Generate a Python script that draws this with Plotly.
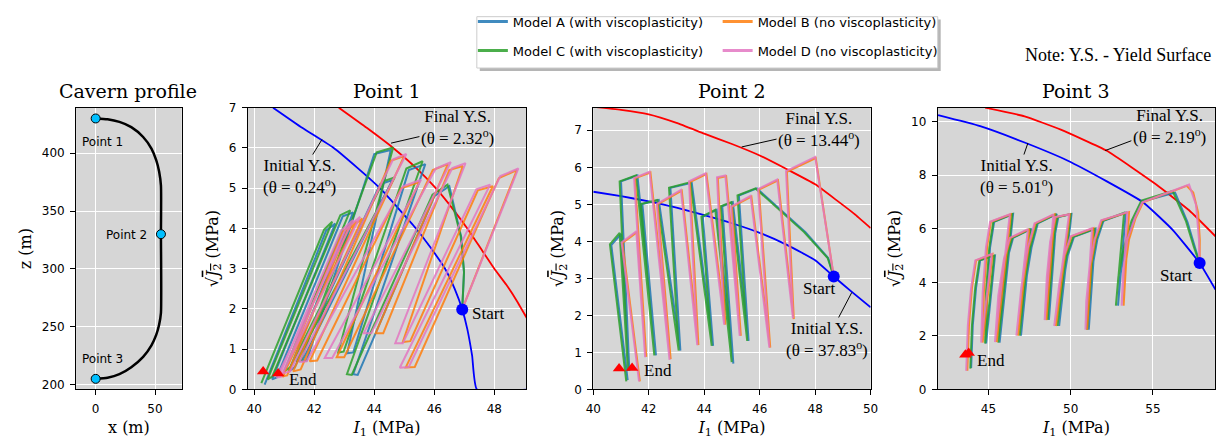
import plotly.graph_objects as go

W, H = 1230, 442

# ---------------- DATA ----------------
# Cavern profile (x, z) in m
cav_x = [0, 10, 20, 30, 40, 47, 51, 53.5, 55, 55, 55, 53.5, 51, 47, 40, 30, 20, 10, 0]
cav_z = [430, 429.3, 427, 422.5, 414, 404, 394, 384, 372, 330, 262, 252, 243, 234, 224, 215, 209, 206, 205]
pt_x = [0, 55, 0]
pt_z = [430, 330, 205]
pt_names = ["Point 1", "Point 2", "Point 3"]

# Yield surfaces
p1_init_I1 = [40.63, 41.6, 42.65, 43.45, 44.19, 44.8, 45.39, 45.9, 46.36, 46.68, 46.93, 47.1, 47.26, 47.42, 49.2]
p1_init_J2 = [7.0, 6.5, 6.0, 5.5, 5.0, 4.5, 4.0, 3.5, 3.0, 2.5, 1.99, 1.5, 0.84, 0.0, 0.0]
p1_fin_I1 = [42.82, 43.75, 44.63, 45.4, 46.05, 46.6, 47.1, 47.55, 48.0, 48.4, 48.75, 49.1]
p1_fin_J2 = [7.0, 6.5, 6.0, 5.5, 5.0, 4.5, 4.0, 3.5, 3.0, 2.6, 2.2, 1.75]

p2_init_I1 = [40.0, 41.0, 42.0, 43.0, 44.0, 45.0, 46.0, 47.0, 48.0, 48.67, 49.3, 50.0]
p2_init_J2 = [5.34, 5.22, 5.08, 4.91, 4.71, 4.49, 4.23, 3.90, 3.49, 3.05, 2.65, 2.22]
p2_fin_I1 = [40.0, 41.0, 42.0, 43.0, 44.0, 45.0, 46.0, 47.0, 48.0, 48.79, 49.4, 50.0]
p2_fin_J2 = [7.63, 7.55, 7.43, 7.20, 6.91, 6.63, 6.32, 5.94, 5.54, 5.10, 4.75, 4.36]

p3_init_I1 = [41.94, 44.5, 47.2, 49.8, 52.2, 54.4, 56.2, 57.84, 58.8]
p3_init_J2 = [10.24, 9.83, 9.22, 8.55, 7.77, 6.99, 5.96, 4.72, 3.73]
p3_fin_I1 = [44.8, 47.2, 49.4, 52.2, 55.2, 57.2, 58.8]
p3_fin_J2 = [10.52, 10.2, 9.70, 8.91, 7.65, 6.69, 5.72]

# Start / End points
start_I1 = [46.93, 48.67, 57.84]
start_J2 = [1.99, 3.05, 4.72]
p1_end_I1 = [40.3, 40.8]
p1_end_J2 = [0.45, 0.40]
p2_end_I1 = [40.93, 41.4]
p2_end_J2 = [0.57, 0.58]
p3_end_I1 = [43.6, 43.8]
p3_end_J2 = [1.30, 1.36]

# ---- Point 1 stress paths ----
p1_A_I1 = [46.93, 46.99, 46.90, 46.50, 46.00, 43.45, 43.30, 45.70, 45.15, 43.30, 43.10, 44.55, 44.00,
           41.75, 41.60, 44.60, 44.20, 41.35, 41.15, 43.30, 42.95, 40.75, 40.60, 42.70, 42.40, 40.35]
p1_A_J2 = [1.99, 2.90, 3.78, 5.05, 4.80, 0.36, 0.38, 5.60, 5.45, 0.92, 0.90, 5.95, 5.85,
           0.72, 0.70, 5.20, 5.10, 0.55, 0.45, 4.40, 4.30, 0.30, 0.25, 4.12, 3.95, 0.12]
p1_C_I1 = [46.93, 46.99, 46.88, 46.44, 45.94, 43.25, 43.09, 45.61, 45.07, 42.98, 42.80, 44.63, 44.08,
           41.56, 41.40, 44.68, 44.30, 41.20, 41.00, 43.20, 42.87, 40.60, 40.45, 42.60, 42.33, 40.24]
p1_C_J2 = [1.99, 2.93, 3.81, 5.09, 4.84, 0.36, 0.38, 5.67, 5.49, 0.94, 0.92, 6.01, 5.89,
           0.72, 0.70, 5.27, 5.17, 0.55, 0.45, 4.45, 4.33, 0.32, 0.25, 4.17, 3.97, 0.16]
p1_B_I1 = [46.93, 48.75, 48.15, 45.35, 45.05, 47.95, 47.45, 45.20, 44.95, 46.95, 46.50, 44.30, 44.05,
           46.45, 45.95, 43.00, 42.75, 45.50, 44.90, 42.10, 41.85, 45.00, 44.55, 41.55, 41.30,
           43.60, 43.10, 41.10, 40.95, 43.40, 42.95, 40.95]
p1_B_J2 = [1.99, 5.45, 5.25, 0.56, 0.55, 5.05, 4.95, 1.20, 1.18, 5.55, 5.45, 1.40, 1.40,
           5.60, 5.45, 0.80, 0.80, 5.15, 5.00, 0.72, 0.70, 5.80, 5.68, 0.50, 0.45,
           4.25, 3.95, 0.35, 0.33, 4.18, 3.92, 0.30]
p1_D_I1 = [46.93, 48.80, 48.20, 45.15, 44.85, 47.86, 47.40, 44.95, 44.70, 47.04, 46.60, 43.90, 43.65,
           46.55, 46.05, 42.60, 42.35, 45.56, 44.96, 41.75, 41.50, 45.07, 44.63, 41.20, 40.95,
           43.53, 43.04, 40.90, 40.75, 43.30, 42.90, 40.80]
p1_D_J2 = [1.99, 5.49, 5.30, 0.56, 0.54, 5.09, 4.97, 1.15, 1.15, 5.62, 5.50, 1.40, 1.40,
           5.65, 5.49, 0.78, 0.78, 5.21, 5.05, 0.70, 0.68, 5.85, 5.72, 0.45, 0.40,
           4.29, 3.97, 0.32, 0.30, 4.21, 3.95, 0.28]

# ---- Point 2 stress paths ----
p2_A_I1 = [48.67, 48.47, 47.65, 46.55, 45.90, 45.25, 45.60, 45.03, 44.65, 45.05, 44.45, 43.95, 44.32,
           43.55, 42.78, 43.14, 42.36, 41.77, 42.26, 41.59, 41.00, 41.30, 41.00, 40.65, 41.24]
p2_A_J2 = [3.05, 3.55, 4.25, 5.00, 5.43, 5.24, 1.31, 5.06, 4.95, 0.70, 4.85, 4.66, 1.18,
           5.58, 5.45, 1.05, 5.12, 5.01, 0.92, 5.78, 5.62, 0.50, 4.20, 3.90, 0.25]
p2_C_I1 = [48.67, 48.45, 47.60, 46.50, 45.85, 45.20, 45.55, 44.98, 44.60, 44.99, 44.40, 43.90, 44.27,
           43.50, 42.73, 43.08, 42.31, 41.72, 42.20, 41.54, 40.95, 41.25, 40.95, 40.60, 41.19]
p2_C_J2 = [3.05, 3.55, 4.25, 5.00, 5.43, 5.24, 1.31, 5.06, 4.95, 0.74, 4.85, 4.66, 1.18,
           5.60, 5.45, 1.05, 5.12, 5.01, 0.92, 5.78, 5.62, 0.50, 4.23, 3.92, 0.22]
p2_B_I1 = [48.67, 48.02, 46.98, 47.23, 46.66, 45.97, 46.38, 45.70, 45.00, 45.32, 44.79, 44.49, 44.76,
           44.08, 43.48, 43.79, 43.19, 42.32, 42.79, 42.06, 41.50, 41.91, 41.58, 41.05, 41.68]
p2_B_J2 = [3.05, 6.25, 5.88, 1.90, 5.65, 5.40, 1.13, 5.21, 4.93, 1.45, 5.76, 5.71, 1.75,
           5.82, 5.60, 1.20, 5.37, 5.00, 0.82, 5.86, 5.70, 0.88, 4.25, 3.96, 0.22]
p2_D_I1 = [48.67, 48.00, 46.95, 47.20, 46.63, 45.94, 46.35, 45.67, 44.97, 45.28, 44.76, 44.46, 44.72,
           44.05, 43.45, 43.75, 43.16, 42.29, 42.75, 42.03, 41.47, 41.87, 41.55, 41.02, 41.65]
p2_D_J2 = [3.05, 6.28, 5.90, 1.92, 5.67, 5.41, 1.13, 5.23, 4.94, 1.45, 5.78, 5.73, 1.75,
           5.84, 5.62, 1.20, 5.39, 5.01, 0.80, 5.88, 5.71, 0.87, 4.27, 3.97, 0.22]

# ---- Point 3 stress paths ----
p3_A_I1 = [57.84, 57.55, 57.10, 56.35, 54.35, 53.80, 53.30, 53.00, 52.88,
           53.35, 52.00, 51.62, 51.33, 51.15, 51.10, 51.52, 50.20, 49.82, 49.52, 49.30,
           50.05, 49.25, 48.96, 48.78, 48.68, 49.15, 48.00, 47.62, 47.22, 46.98,
           47.62, 46.50, 46.16, 45.82, 45.68, 46.50, 45.35, 45.10, 44.92, 44.86,
           45.40, 44.50, 44.25, 44.05, 43.95]
p3_A_J2 = [4.72, 5.30, 6.25, 7.35, 7.02, 6.30, 5.20, 4.20, 3.13,
           6.60, 6.30, 5.60, 4.60, 3.30, 2.23, 6.00, 5.70, 5.00, 3.90, 2.37,
           6.55, 6.44, 5.50, 4.20, 2.60, 6.55, 6.20, 5.30, 3.80, 2.01,
           6.00, 5.66, 4.90, 3.50, 1.75, 6.55, 6.26, 5.30, 3.60, 1.72,
           5.00, 4.82, 3.80, 2.40, 0.80]
p3_C_I1 = [57.84, 57.50, 57.00, 56.20, 54.30, 53.70, 53.20, 52.90, 52.75,
           53.25, 51.95, 51.55, 51.25, 51.05, 51.00, 51.45, 50.15, 49.75, 49.45, 49.20,
           50.00, 49.20, 48.90, 48.70, 48.60, 49.10, 47.95, 47.55, 47.15, 46.90,
           47.55, 46.45, 46.10, 45.75, 45.60, 46.45, 45.30, 45.05, 44.85, 44.80,
           45.35, 44.45, 44.20, 44.00, 43.90]
p3_C_J2 = [4.72, 5.30, 6.30, 7.41, 7.05, 6.30, 5.20, 4.20, 3.13,
           6.60, 6.30, 5.60, 4.60, 3.30, 2.23, 6.00, 5.70, 5.00, 3.90, 2.37,
           6.55, 6.44, 5.50, 4.20, 2.60, 6.55, 6.20, 5.30, 3.80, 2.01,
           6.00, 5.66, 4.90, 3.50, 1.75, 6.55, 6.26, 5.30, 3.60, 1.72,
           5.00, 4.82, 3.80, 2.40, 0.78]
p3_B_I1 = [57.84, 57.85, 57.75, 57.45, 57.05, 54.40, 53.95, 53.55, 53.30, 53.22,
           53.55, 51.90, 51.50, 51.22, 51.05, 51.00, 51.38, 50.05, 49.65, 49.38, 49.10,
           49.95, 49.10, 48.82, 48.62, 48.52, 49.02, 47.85, 47.45, 47.08, 46.80,
           47.48, 46.35, 46.00, 45.68, 45.50, 46.36, 45.15, 44.92, 44.72, 44.65,
           45.25, 44.25, 44.00, 43.82, 43.72]
p3_B_J2 = [4.72, 5.60, 6.60, 7.35, 7.60, 6.99, 6.40, 5.60, 4.50, 3.13,
           6.62, 6.32, 5.60, 4.60, 3.30, 2.23, 6.02, 5.72, 5.00, 3.90, 2.37,
           6.54, 6.44, 5.50, 4.20, 2.59, 6.54, 6.20, 5.30, 3.80, 2.01,
           5.99, 5.66, 4.90, 3.50, 1.77, 6.54, 6.26, 5.30, 3.60, 1.75,
           5.06, 4.82, 3.80, 2.40, 0.70]
p3_D_I1 = [57.84, 57.80, 57.62, 57.20, 54.35, 53.90, 53.45, 53.20, 53.10,
           53.45, 51.85, 51.45, 51.15, 50.95, 50.90, 51.30, 50.00, 49.60, 49.30, 49.00,
           49.90, 49.05, 48.75, 48.55, 48.42, 48.95, 47.80, 47.40, 47.00, 46.70,
           47.40, 46.30, 45.95, 45.60, 45.40, 46.30, 45.10, 44.85, 44.65, 44.56,
           45.20, 44.20, 43.95, 43.75, 43.65]
p3_D_J2 = [4.72, 5.60, 6.90, 7.65, 6.99, 6.40, 5.60, 4.50, 3.13,
           6.62, 6.32, 5.60, 4.60, 3.30, 2.23, 6.02, 5.72, 5.00, 3.90, 2.37,
           6.54, 6.44, 5.50, 4.20, 2.59, 6.54, 6.20, 5.30, 3.80, 2.01,
           5.99, 5.66, 4.90, 3.50, 1.77, 6.54, 6.26, 5.30, 3.60, 1.75,
           5.06, 4.82, 3.80, 2.40, 0.70]

model_names = ["Model A (with viscoplasticity)", "Model C (with viscoplasticity)",
               "Model B (no viscoplasticity)", "Model D (no viscoplasticity)"]
model_colors = ["#1f77b4", "#2ca02c", "#ff7f0e", "#e377c2"]

# ---------------- FIGURE ----------------
fig = go.Figure()

def xd(a, b):
    return [a / W, b / W]

def yd(top, bottom):
    return [1 - bottom / H, 1 - top / H]

SERIF = "DejaVu Serif"
TIMES = "Liberation Serif"
SANS = "DejaVu Sans"
BG = "#d6d6d6"

# cavern profile
fig.add_trace(go.Scatter(x=cav_x, y=cav_z, mode="lines", line=dict(color="black", width=2.5, shape="spline", smoothing=0.6),
                         xaxis="x", yaxis="y", showlegend=False, hoverinfo="skip"))
fig.add_trace(go.Scatter(x=pt_x, y=pt_z, mode="markers",
                         marker=dict(color="#00bfff", size=9, line=dict(color="black", width=1)),
                         xaxis="x", yaxis="y", showlegend=False))

panels = [
    ("x2", "y2", p1_init_I1, p1_init_J2, p1_fin_I1, p1_fin_J2,
     [(p1_A_I1, p1_A_J2), (p1_C_I1, p1_C_J2), (p1_B_I1, p1_B_J2), (p1_D_I1, p1_D_J2)],
     p1_end_I1, p1_end_J2, 0),
    ("x3", "y3", p2_init_I1, p2_init_J2, p2_fin_I1, p2_fin_J2,
     [(p2_A_I1, p2_A_J2), (p2_C_I1, p2_C_J2), (p2_B_I1, p2_B_J2), (p2_D_I1, p2_D_J2)],
     p2_end_I1, p2_end_J2, 1),
    ("x4", "y4", p3_init_I1, p3_init_J2, p3_fin_I1, p3_fin_J2,
     [(p3_A_I1, p3_A_J2), (p3_C_I1, p3_C_J2), (p3_B_I1, p3_B_J2), (p3_D_I1, p3_D_J2)],
     p3_end_I1, p3_end_J2, 2),
]
legend_ids = ["legend", "legend2", "legend3", "legend4"]

for (xa, ya, ii, ij, fi, fj, paths, ei, ej, k) in panels:
    fig.add_trace(go.Scatter(x=ii, y=ij, mode="lines", line=dict(color="blue", width=1.8, shape="spline", smoothing=0.4),
                             xaxis=xa, yaxis=ya, showlegend=False, hoverinfo="skip"))
    fig.add_trace(go.Scatter(x=fi, y=fj, mode="lines", line=dict(color="red", width=1.8, shape="spline", smoothing=0.4),
                             xaxis=xa, yaxis=ya, showlegend=False, hoverinfo="skip"))
    for m, (px_, py_) in enumerate(paths):
        fig.add_trace(go.Scatter(x=px_, y=py_, mode="lines", name=model_names[m],
                                 line=dict(color=model_colors[m], width=2),
                                 opacity=0.85, xaxis=xa, yaxis=ya, showlegend=False))
    fig.add_trace(go.Scatter(x=[start_I1[k]], y=[start_J2[k]], mode="markers",
                             marker=dict(color="blue", size=12), xaxis=xa, yaxis=ya, showlegend=False))
    fig.add_trace(go.Scatter(x=ei, y=ej, mode="markers",
                             marker=dict(color="red", size=11, symbol="triangle-up"),
                             xaxis=xa, yaxis=ya, showlegend=False))

# legend-only entries (no data)
for m in range(4):
    fig.add_trace(go.Scatter(x=[None], y=[None], mode="lines", name=model_names[m],
                             line=dict(color=model_colors[m], width=3), opacity=0.85,
                             xaxis="x2", yaxis="y2", showlegend=True, legend=legend_ids[m]))

axis_common = dict(showline=True, linecolor="black", linewidth=1, mirror=True,
                   ticks="outside", ticklen=5, tickwidth=1, tickcolor="black",
                   ticklabelstandoff=3,
                   showgrid=True, gridcolor="white", gridwidth=1, zeroline=False,
                   tickfont=dict(family=SANS, size=12, color="black"))

ylab = "√<span style='text-decoration:overline'><i>J</i><sub>2</sub></span> (MPa)"
xlab = "<i>I</i><sub>1</sub> (MPa)"
tf = dict(family=SERIF, size=16, color="black")

fig.update_layout(
    width=W, height=H, margin=dict(l=0, r=0, t=0, b=0),
    paper_bgcolor="white", plot_bgcolor=BG,
    xaxis=dict(domain=xd(69, 176), range=[-16.5, 72.5], tickvals=[0, 50], anchor="y",
               title=dict(text="x (m)", font=tf, standoff=6), **axis_common),
    yaxis=dict(domain=yd(104, 395), range=[195.8, 439.3], tickvals=[200, 250, 300, 350, 400], anchor="x",
               title=dict(text="z (m)", font=tf, standoff=6), **axis_common),
    xaxis2=dict(domain=xd(243, 525), range=[39.79, 49.06], tickvals=[40, 42, 44, 46, 48], anchor="y2",
                title=dict(text=xlab, font=tf, standoff=6), **axis_common),
    yaxis2=dict(domain=yd(104, 395), range=[0, 7], tickvals=list(range(8)), anchor="x2",
                title=dict(text=ylab, font=tf, standoff=6), **axis_common),
    xaxis3=dict(domain=xd(593, 874), range=[40, 50], tickvals=[40, 42, 44, 46, 48, 50], anchor="y3",
                title=dict(text=xlab, font=tf, standoff=6), **axis_common),
    yaxis3=dict(domain=yd(104, 395), range=[0, 7.61], tickvals=list(range(8)), anchor="x3",
                title=dict(text=ylab, font=tf, standoff=6), **axis_common),
    xaxis4=dict(domain=xd(942, 1223), range=[41.92, 58.78], tickvals=[45, 50, 55], anchor="y4",
                title=dict(text=xlab, font=tf, standoff=6), **axis_common),
    yaxis4=dict(domain=yd(104, 395), range=[0, 10.52], tickvals=[0, 2, 4, 6, 8, 10], anchor="x4",
                title=dict(text=ylab, font=tf, standoff=6), **axis_common),
)

# legends: one item each, arranged 2x2
leg_pos = {"legend": (471, 15), "legend2": (471, 45), "legend3": (719, 15), "legend4": (719, 45)}
for lid, (lx, ly) in leg_pos.items():
    fig.update_layout({lid: dict(x=lx / W, y=1 - ly / H, xanchor="left", yanchor="middle",
                                 bgcolor="rgba(0,0,0,0)", borderwidth=0,
                                 font=dict(family=SANS, size=13, color="black"))})

# legend frame with shadow
fig.add_shape(type="rect", xref="paper", yref="paper", x0=478 / W, x1=945 / W, y0=1 - 66 / H, y1=1 - 13 / H,
              line=dict(width=0), fillcolor="rgba(120,120,120,0.55)", layer="above")
fig.add_shape(type="rect", xref="paper", yref="paper", x0=475 / W, x1=942 / W, y0=1 - 63 / H, y1=1 - 10 / H,
              line=dict(color="#cccccc", width=1), fillcolor="white", layer="above")

ann = []
def title(text, cx):
    ann.append(dict(text=text, x=cx / W, y=1 - 87 / H, xref="paper", yref="paper", showarrow=False,
                    xanchor="center", yanchor="middle", font=dict(family=SERIF, size=19, color="black")))
title("Cavern profile", 122)
title("Point 1", 384)
title("Point 2", 733.5)
title("Point 3", 1082.5)

for (nm, tx, ty, anchor) in [(pt_names[0], 5.8, 410, "center"), (pt_names[1], 45, 329, "right"),
                             (pt_names[2], 5.6, 222, "center")]:
    ann.append(dict(text=nm, x=tx, y=ty, xref="x", yref="y", showarrow=False, xanchor=anchor,
                    font=dict(family=SANS, size=12, color="black")))

tfont = dict(family=TIMES, size=17, color="black")
def leader(text, xa, ya, hx, hy, tx, ty):
    ann.append(dict(text=text, x=hx, y=hy, ax=tx, ay=ty, xref=xa, yref=ya, axref=xa, ayref=ya,
                    showarrow=True, arrowhead=0, arrowwidth=1, arrowcolor="black", standoff=0,
                    font=tfont, align="center"))
def label(text, xa, ya, tx, ty):
    ann.append(dict(text=text, x=tx, y=ty, xref=xa, yref=ya, showarrow=False, font=tfont))

leader("Final Y.S.<br>(θ = 2.32<sup>o</sup>)", "x2", "y2", 44.56, 6.12, 46.77, 6.50)
leader("Initial Y.S.<br>(θ = 0.24<sup>o</sup>)", "x2", "y2", 42.26, 6.21, 41.5, 5.29)
label("Start", "x2", "y2", 47.8, 1.88)
label("End", "x2", "y2", 41.63, 0.24)

leader("Final Y.S.<br>(θ = 13.44<sup>o</sup>)", "x3", "y3", 45.35, 6.55, 48.14, 7.02)
leader("Initial Y.S.<br>(θ = 37.83<sup>o</sup>)", "x3", "y3", 49.32, 2.62, 48.43, 1.35)
label("Start", "x3", "y3", 48.14, 2.73)
label("End", "x3", "y3", 42.35, 0.50)

leader("Final Y.S.<br>(θ = 2.19<sup>o</sup>)", "x4", "y4", 52.1, 8.92, 56.0, 9.82)
leader("Initial Y.S.<br>(θ = 5.01<sup>o</sup>)", "x4", "y4", 47.4, 9.2, 46.7, 7.95)
label("Start", "x4", "y4", 56.4, 4.25)
label("End", "x4", "y4", 45.16, 1.08)

ann.append(dict(text="Note: Y.S. - Yield Surface", x=1221 / W, y=1 - 50 / H, xref="paper", yref="paper",
                showarrow=False, xanchor="right", yanchor="middle", font=dict(family=TIMES, size=18, color="black")))

fig.update_layout(annotations=ann)
fig.write_html("out.html")
